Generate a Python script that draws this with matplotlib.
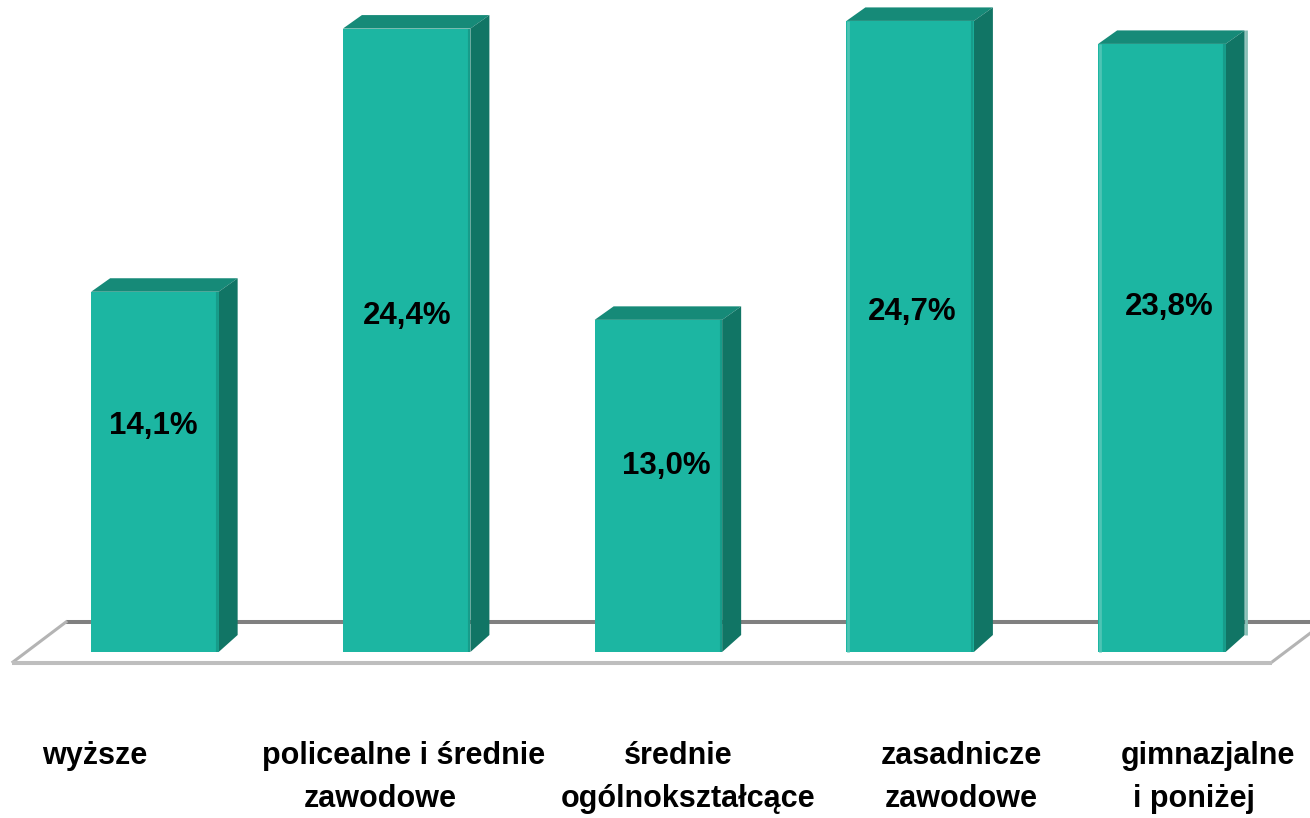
import matplotlib
matplotlib.use("Agg")
import matplotlib.pyplot as plt
from matplotlib.patches import Polygon

categories = [["wyższe"], ["policealne i średnie", "zawodowe"], ["średnie", "ogólnokształcące"],
              ["zasadnicze", "zawodowe"], ["gimnazjalne", "i poniżej"]]
values = [14.1, 24.4, 13.0, 24.7, 23.8]
value_labels = ["14,1%", "24,4%", "13,0%", "24,7%", "23,8%"]

FRONT = "#1cb6a2"
TOP = "#168a78"
SIDE = "#117565"
EDGE = "#179c8a"
LIGHT = "#4dc4b4"

# figure layout in pixels
W, H = 1310, 818
PX_PER_UNIT = 25.55  # vertical px per percent
PX_PER_CAT = 251.75  # horizontal px per category
X0, Y0 = 154.9, 652.0  # pixel position of first bar centre / baseline

# offsets of the labels, they are not centred in the original
label_dx = [-2, 1, 8, 2, 7]
label_dy = [-134, -287, -146, -291, -263]
# every line of the category labels sits on its own x in the original
cat_x = [[95], [404, 380], [678, 688], [961, 961], [1208, 1194]]
cat_y = [756, 799]

fig = plt.figure(figsize=(W / 100, H / 100), dpi=100)
ax = fig.add_axes([0, 0, 1, 1])
ax.set_xlim(-X0 / PX_PER_CAT, (W - X0) / PX_PER_CAT)
ax.set_ylim(-(H - Y0) / PX_PER_UNIT, Y0 / PX_PER_UNIT)
ax.axis("off")

bar_w = 127.5 / PX_PER_CAT
dx = 19 / PX_PER_CAT
dy = 13.5 / PX_PER_UNIT
dy_low = 17 / PX_PER_UNIT


def fx(px):
    return (px - X0) / PX_PER_CAT


def fy(py):
    return (Y0 - py) / PX_PER_UNIT


# floor, back line first so the bars cover it
ax.plot([fx(66), fx(1330)], [fy(622), fy(622)], color="#808080", lw=2.9, zorder=1, solid_capstyle="butt")
ax.plot([fx(13), fx(66)], [fy(662), fy(622)], color="#b4b4b4", lw=2.2, zorder=1)
ax.plot([fx(1272), fx(1325)], [fy(662), fy(622)], color="#b4b4b4", lw=2.2, zorder=1)
ax.plot([fx(12), fx(1272)], [fy(662.5), fy(662.5)], color="#bebebe", lw=2.9, zorder=1, solid_capstyle="butt")

for i, v in enumerate(values):
    l = i - bar_w / 2
    r = i + bar_w / 2
    ax.bar(i, v, width=bar_w, color=FRONT, linewidth=0, zorder=3)
    ax.add_patch(Polygon([(l, v), (l + dx, v + dy), (r + dx, v + dy), (r, v)], closed=True, fc=TOP, ec="none", zorder=3))
    ax.add_patch(Polygon([(r, 0), (r + dx, dy_low), (r + dx, v + dy), (r, v)], closed=True, fc=SIDE, ec="none", zorder=3))
    ax.plot([r - 1.5 / PX_PER_CAT] * 2, [0, v], color=EDGE, lw=1.5, zorder=4, solid_capstyle="butt")
    if i >= 3:
        ax.plot([l + 1.5 / PX_PER_CAT] * 2, [0, v], color=LIGHT, lw=2, zorder=4, solid_capstyle="butt")
    if i == 4:
        ax.plot([r + dx + 1.5 / PX_PER_CAT] * 2, [dy_low, v + dy], color="#88bfb6", lw=2, zorder=2, solid_capstyle="butt")
    ax.annotate(value_labels[i], xy=(i, v), xytext=(label_dx[i], label_dy[i]), textcoords="offset pixels",
                ha="center", va="center", fontsize=22.5, fontweight="bold", family="Liberation Sans", color="black", zorder=5)
    for j, line in enumerate(categories[i]):
        ax.text(fx(cat_x[i][j]), fy(cat_y[j]), line, ha="center", va="center", fontsize=22, fontweight="bold",
                family="Liberation Sans", color="black")

fig.savefig("out.png", dpi=100)
